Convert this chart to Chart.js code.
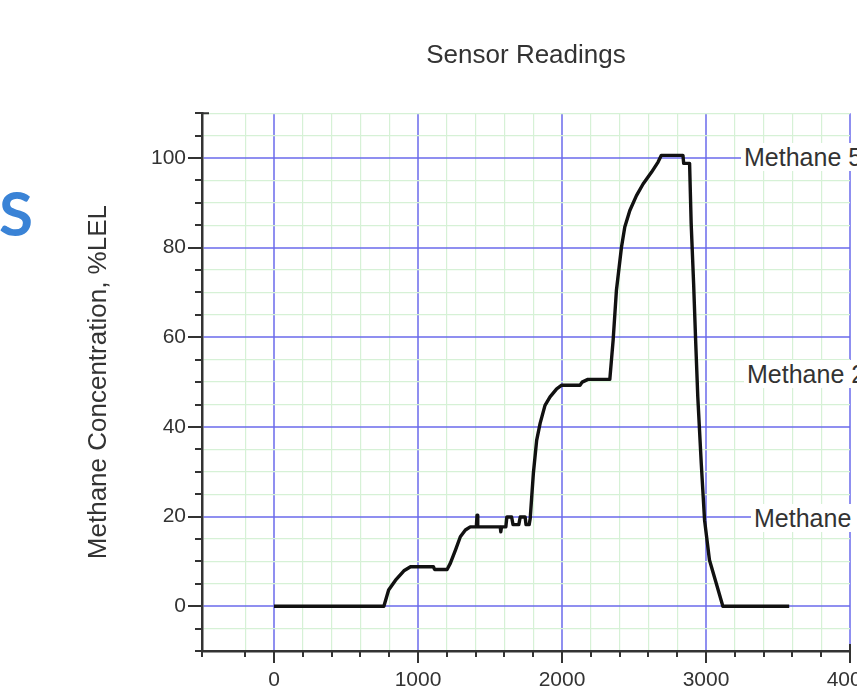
<!DOCTYPE html>
<html>
<head>
<meta charset="utf-8">
<script src="https://cdn.jsdelivr.net/npm/chart.js@4.4.1/dist/chart.umd.min.js"></script>
<style>
  html, body { margin: 0; padding: 0; background: #fff; overflow: hidden; }
  #wrap { position: relative; width: 857px; height: 700px; overflow: hidden; }
  canvas { position: absolute; left: 0; top: 0; }
  .note {
    position: absolute; white-space: nowrap; background: #fff;
    font: 25px "Liberation Sans", Arial, sans-serif; color: #333;
    line-height: 28px; padding: 0 3px;
  }
  #slide-s {
    position: absolute; left: -1px; top: 181px;
    font-family: "Lato", "Noto Sans", sans-serif; font-weight: 700; font-style: normal;
    font-size: 62px; line-height: 62px; color: #3a83d6;
  }
</style>
</head>
<body>
<div id="wrap">
  <canvas id="chart" width="857" height="700"></canvas>
  <div id="slide-s">S</div>
  <div class="note" style="left:741px; top:143px;">Methane 5%</div>
  <div class="note" style="left:744px; top:360px;">Methane 2.5%</div>
  <div class="note" style="left:751px; top:504px;">Methane 1%</div>
</div>
<script>
"use strict";

// ─── Data ─────────────────────────────────────────────────────
// time axis (s) and methane reading (%LEL)
const timeSec = [
  0, 763, 796, 844, 902, 948, 1107, 1115, 1202, 1225,
  1260, 1294, 1329, 1363, 1405, 1410, 1415, 1571, 1575, 1580,
  1610, 1617, 1650, 1660, 1700, 1710, 1744, 1750, 1772, 1779,
  1801, 1824, 1848, 1882, 1917, 1963, 1998, 2125, 2140, 2180,
  2332, 2355, 2378, 2413, 2436, 2471, 2517, 2563, 2621, 2667,
  2690, 2840, 2845, 2886, 2897, 2914, 2928, 2943, 2967, 2990,
  3024, 3071, 3117, 3578,
];
const methaneLel = [
  0, 0, 3.6, 5.8, 7.9, 8.8, 8.8, 8.2, 8.2, 9.6,
  12.5, 15.5, 17, 17.7, 17.7, 20.3, 17.7, 17.7, 16.6, 17.7,
  17.7, 19.9, 19.9, 18.2, 18.2, 19.9, 19.9, 18.2, 18.2, 19.5,
  29.6, 37, 40.8, 44.8, 46.7, 48.5, 49.3, 49.3, 50, 50.6,
  50.6, 59.3, 70.5, 80.1, 84.6, 88.3, 91.6, 94.2, 96.8, 99.1,
  100.6, 100.6, 98.8, 98.8, 85.4, 72, 59.3, 46.7, 31.9, 19.2,
  10.3, 5.1, 0, 0,
];

const xRange = [-500, 4000];
const yRange = [-10, 110];
const xMinorStep = 200, xMajorStep = 1000;
const yMinorStep = 5, yMajorStep = 20;

// ─── Styling ──────────────────────────────────────────────────
const ink = "#333";
const blueGrid = "rgba(105,105,235,0.75)";
const greenGrid = "#d6f1d6";
const font = "'Liberation Sans', Arial, sans-serif";

const isMajor = (v, step) => Math.abs(v % step) < 1e-6;

// Origin-style outward tick marks: long on majors, short on minors.
const axisTicks = {
  id: "axisTicks",
  afterDraw(chart) {
    const { ctx, chartArea: a, scales: { x, y } } = chart;
    ctx.save();
    ctx.strokeStyle = ink;
    ctx.lineWidth = 2;
    ctx.beginPath();
    for (const t of y.ticks) {
      const py = Math.round(y.getPixelForValue(t.value));
      const len = isMajor(t.value, yMajorStep) ? 14 : 7;
      ctx.moveTo(a.left - len, py);
      ctx.lineTo(a.left, py);
    }
    for (const t of x.ticks) {
      const px = Math.round(x.getPixelForValue(t.value));
      const len = isMajor(t.value, xMajorStep) ? 12 : 6;
      ctx.moveTo(px, a.bottom);
      ctx.lineTo(px, a.bottom + len);
    }
    // end brackets
    ctx.moveTo(a.left, a.top);
    ctx.lineTo(a.left + 7, a.top);
    ctx.moveTo(a.right, a.bottom);
    ctx.lineTo(a.right, a.bottom - 7);
    ctx.stroke();
    ctx.restore();
  },
};

new Chart(document.getElementById("chart"), {
  type: "scatter",
  data: {
    datasets: [{
      label: "Methane",
      data: timeSec.map((t, i) => ({ x: t, y: methaneLel[i] })),
      showLine: true,
      borderColor: "#111",
      borderWidth: 3.4,
      borderJoinStyle: "round",
      pointRadius: 0,
      tension: 0,
    }],
  },
  options: {
    responsive: false,
    animation: false,
    devicePixelRatio: 1,
    layout: { padding: { left: 0, right: 7, top: 0, bottom: 0 } },
    plugins: {
      legend: { display: false },
      tooltip: { enabled: false },
      title: {
        display: true,
        text: "Sensor Readings",
        fullSize: false,
        color: ink,
        font: { family: font, size: 26, weight: "normal" },
        padding: { top: 40, bottom: 42 },
      },
    },
    scales: {
      x: {
        type: "linear",
        min: xRange[0],
        max: xRange[1],
        afterFit: (s) => { s.height = 49; s.paddingLeft = 0; s.paddingRight = 0; },
        border: { display: true, color: ink, width: 2.5 },
        grid: {
          drawTicks: false,
          color: (c) => isMajor(c.tick.value, xMajorStep) ? blueGrid : greenGrid,
          lineWidth: (c) => isMajor(c.tick.value, xMajorStep) ? 2 : 1.2,
        },
        ticks: {
          stepSize: xMinorStep,
          autoSkip: false,
          maxRotation: 0,
          padding: 17,
          color: ink,
          font: { family: font, size: 21 },
          callback: (v) => (isMajor(v, xMajorStep) && v >= 0 ? String(v) : ""),
        },
      },
      y: {
        type: "linear",
        min: yRange[0],
        max: yRange[1],
        afterFit: (s) => { s.width = 202; s.paddingTop = 0; s.paddingBottom = 0; },
        border: { display: true, color: ink, width: 2.5 },
        grid: {
          drawTicks: false,
          color: (c) => isMajor(c.tick.value, yMajorStep) ? blueGrid : greenGrid,
          lineWidth: (c) => isMajor(c.tick.value, yMajorStep) ? 2 : 1.2,
        },
        ticks: {
          stepSize: yMinorStep,
          autoSkip: false,
          padding: 16,
          color: ink,
          font: { family: font, size: 21 },
          callback: (v) => (isMajor(v, yMajorStep) && v >= 0 && v <= 100 ? String(v) : ""),
        },
        title: {
          display: true,
          text: "Methane Concentration, %LEL",
          color: ink,
          font: { family: font, size: 26 },
          padding: { top: 83, bottom: 0 },
        },
      },
    },
  },
  plugins: [axisTicks],
});
</script>
</body>
</html>
